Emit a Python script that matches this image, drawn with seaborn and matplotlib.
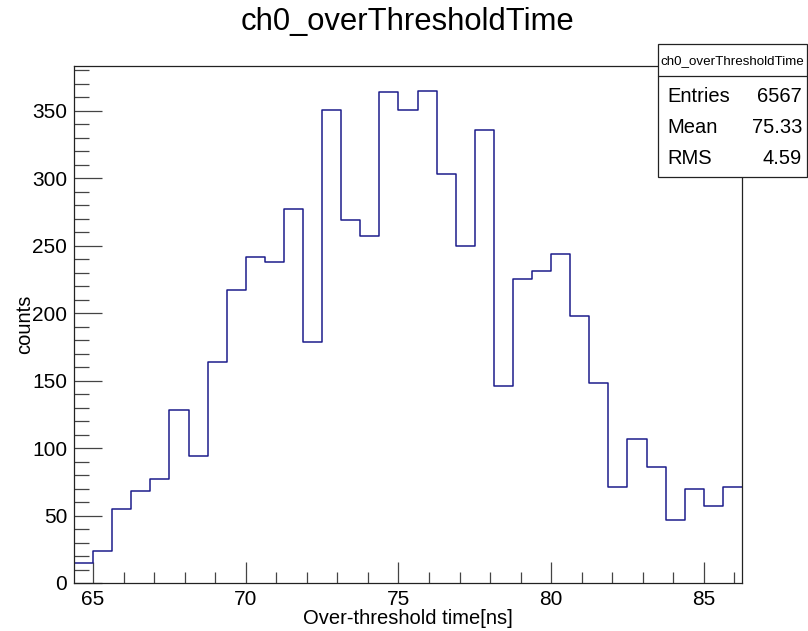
import numpy as np
import pandas as pd
import seaborn as sns
import matplotlib.pyplot as plt
from matplotlib.patches import Rectangle
from matplotlib.lines import Line2D
from matplotlib.ticker import MultipleLocator

# histogram contents (35 bins of 0.625 ns starting at 64.375 ns)
bin_start = 64.375
bin_width = 0.625
counts = [15, 24, 55, 68, 77, 128, 94, 164, 217, 242, 238, 277, 179, 351, 269,
          257, 364, 351, 365, 303, 250, 336, 146, 225, 231, 244, 198, 148, 71, 107,
          86, 47, 70, 57, 71]

stat_names = ["Entries", "Mean", "RMS"]
stat_values = ["6567", "75.33", "4.59"]
hist_name = "ch0_overThresholdTime"

edges = bin_start + bin_width * np.arange(len(counts) + 1)
df = pd.DataFrame({"time": (edges[:-1] + edges[1:]) / 2, "counts": counts})

sns.set_style("ticks")
plt.rcParams['font.family'] = ['Liberation Sans', 'DejaVu Sans']
plt.rcParams['text.color'] = 'black'
plt.rcParams['axes.labelcolor'] = 'black'
plt.rcParams['xtick.labelcolor'] = 'black'
plt.rcParams['ytick.labelcolor'] = 'black'

fig = plt.figure(figsize=(8.08, 6.31), dpi=100)
ax = fig.add_axes([74 / 808, 1 - 583 / 631, (742 - 74) / 808, (583 - 66) / 631])

sns.histplot(data=df, x="time", weights="counts", bins=list(edges), element="step",
             fill=False, color="#1c1c8c", linewidth=1.1, ax=ax)

ax.set_xlim(edges[0], edges[-1])
ax.set_ylim(0, max(counts) * 1.05)

ax.xaxis.set_major_locator(MultipleLocator(5))
ax.xaxis.set_minor_locator(MultipleLocator(1))
ax.yaxis.set_major_locator(MultipleLocator(50))
ax.yaxis.set_minor_locator(MultipleLocator(10))
ax.tick_params(axis="x", which="major", direction="in", length=15, width=0.9,
               labelsize=15, pad=5, color="#444444", labelcolor="black")
ax.tick_params(axis="x", which="minor", direction="in", length=8, width=0.9, color="#444444")
ax.tick_params(axis="y", which="major", direction="in", length=20, width=0.9,
               labelsize=15, pad=5, color="#444444", labelcolor="black")
ax.tick_params(axis="y", which="minor", direction="in", length=11, width=0.9, color="#444444")
for s in ax.spines.values():
    s.set_color("#222222")
    s.set_linewidth(0.9)

ax.set_xlabel("Over-threshold time[ns]", fontsize=14.5, labelpad=0, color="black")
ax.xaxis.set_label_coords(0.5, -0.05)
ax.set_ylabel("counts", fontsize=14.5, color="black")
ax.yaxis.set_label_coords(-(74 - 34) / (742 - 74), 0.5)

fig.text(407 / 808, 1 - 22 / 631, hist_name, fontsize=22.3, ha="center", va="center")

# stats box
bx0, bx1 = 658 / 808, 807 / 808
by0, by1 = 1 - 177 / 631, 1 - 44 / 631
fig.patches.append(Rectangle((bx0, by0), bx1 - bx0, by1 - by0, transform=fig.transFigure,
                             facecolor="white", edgecolor="#222222", linewidth=0.9, zorder=2))
fig.lines.append(Line2D([bx0, bx1], [1 - 76 / 631] * 2, transform=fig.transFigure,
                        color="#222222", linewidth=0.9, zorder=3))
fig.text(732 / 808, 1 - 61 / 631, hist_name, fontsize=9.6, ha="center", va="center", zorder=4)
for i, (n, v) in enumerate(zip(stat_names, stat_values)):
    y = 1 - (97 + 30.5 * i) / 631
    fig.text(667 / 808, y, n, fontsize=14.5, ha="left", va="center", zorder=4)
    fig.text(802 / 808, y, v, fontsize=14.5, ha="right", va="center", zorder=4)

fig.savefig("out.png", dpi=100)
